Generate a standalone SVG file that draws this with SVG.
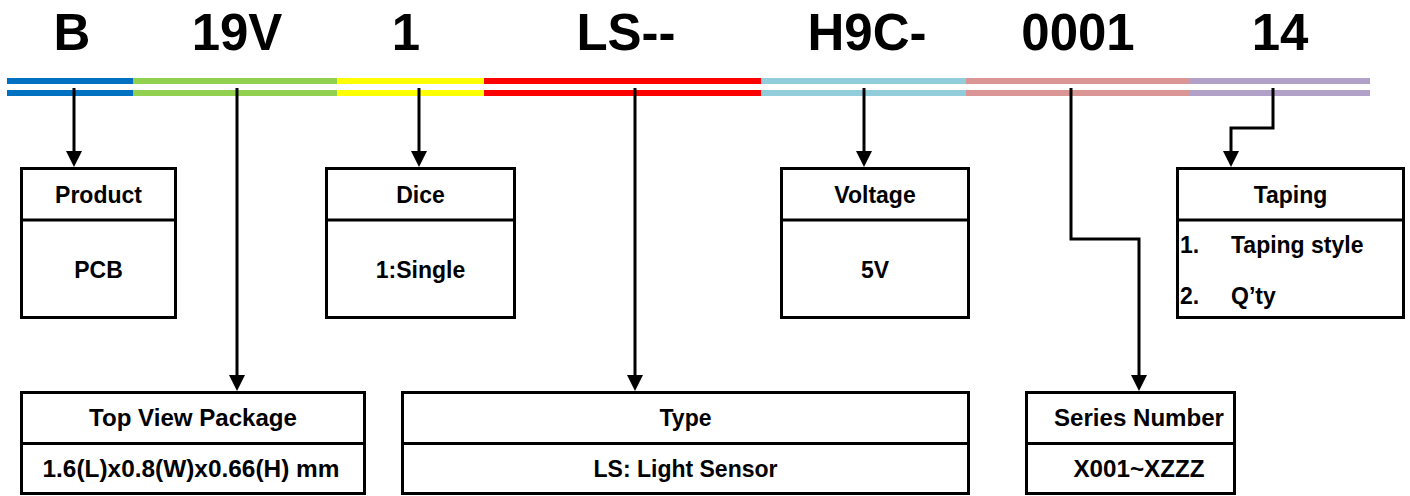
<svg xmlns="http://www.w3.org/2000/svg" width="1410" height="496" viewBox="0 0 1410 496">
  <style>
    .code { font-family: "Liberation Sans", Arial, sans-serif; font-weight: bold; font-size: 51px; fill: #000; text-anchor: middle; }
    .lbl { font-family: "Liberation Sans", Arial, sans-serif; font-weight: bold; font-size: 23px; fill: #000; text-anchor: middle; }
    .lbl-l { font-family: "Liberation Sans", Arial, sans-serif; font-weight: bold; font-size: 23px; fill: #000; }
    .box { fill: #fff; stroke: #000; stroke-width: 3; }
    .div { stroke: #000; stroke-width: 3; }
    .conn { fill: none; stroke: #000; stroke-width: 3; marker-end: url(#arr); }
  </style>
  <defs>
    <marker id="arr" viewBox="0 0 16 16" refX="7" refY="8" markerWidth="16" markerHeight="16" markerUnits="userSpaceOnUse" orient="auto">
      <path d="M0,0 L16,8 L0,16 z" fill="#000"/>
    </marker>
  </defs>
  <rect width="1410" height="496" fill="#fff"/>

  <g id="code">
    <text class="code" x="72" y="50">B</text>
    <text class="code" x="237" y="50">19V</text>
    <text class="code" x="406" y="50">1</text>
    <text class="code" x="626" y="50">LS--</text>
    <text class="code" x="867" y="50">H9C-</text>
    <text class="code" x="1078" y="50">0001</text>
    <text class="code" x="1280" y="50">14</text>
  </g>

  <g id="bars">
    <rect x="7" y="78" width="126" height="6" fill="#0070C0"/>
    <rect x="7" y="90" width="126" height="6" fill="#0070C0"/>
    <rect x="133" y="78" width="204" height="6" fill="#92D050"/>
    <rect x="133" y="90" width="204" height="6" fill="#92D050"/>
    <rect x="337" y="78" width="147" height="6" fill="#FFFF00"/>
    <rect x="337" y="90" width="147" height="6" fill="#FFFF00"/>
    <rect x="484" y="78" width="277" height="6" fill="#FF0000"/>
    <rect x="484" y="90" width="277" height="6" fill="#FF0000"/>
    <rect x="761" y="78" width="205" height="6" fill="#92CDDC"/>
    <rect x="761" y="90" width="205" height="6" fill="#92CDDC"/>
    <rect x="966" y="78" width="224" height="6" fill="#DA9694"/>
    <rect x="966" y="90" width="224" height="6" fill="#DA9694"/>
    <rect x="1190" y="78" width="180" height="6" fill="#B1A0C7"/>
    <rect x="1190" y="90" width="180" height="6" fill="#B1A0C7"/>
  </g>

  <g id="connectors">
    <path class="conn" d="M74,88 V158"/>
    <path class="conn" d="M237,88 V382"/>
    <path class="conn" d="M419,88 V158"/>
    <path class="conn" d="M635,88 V382"/>
    <path class="conn" d="M864,88 V158"/>
    <path class="conn" d="M1071,88 V239 H1139 V382"/>
    <path class="conn" d="M1273,88 V128 H1231 V158"/>
  </g>

  <g id="product">
    <rect class="box" x="21.5" y="168.5" width="154" height="149"/>
    <line class="div" x1="21.5" y1="220" x2="175.5" y2="220"/>
    <text class="lbl" x="98.5" y="203">Product</text>
    <text class="lbl" x="98.5" y="278">PCB</text>
  </g>

  <g id="dice">
    <rect class="box" x="326.5" y="168.5" width="188" height="149"/>
    <line class="div" x1="326.5" y1="220" x2="514.5" y2="220"/>
    <text class="lbl" x="420.5" y="203">Dice</text>
    <text class="lbl" x="420.5" y="278">1:Single</text>
  </g>

  <g id="voltage">
    <rect class="box" x="781.5" y="168.5" width="187" height="149"/>
    <line class="div" x1="781.5" y1="220" x2="968.5" y2="220"/>
    <text class="lbl" x="875" y="203">Voltage</text>
    <text class="lbl" x="875" y="278">5V</text>
  </g>

  <g id="taping">
    <rect class="box" x="1177.5" y="168.5" width="226" height="149"/>
    <line class="div" x1="1177.5" y1="220" x2="1403.5" y2="220"/>
    <text class="lbl" x="1290.5" y="203">Taping</text>
    <text class="lbl-l" x="1180" y="253">1.</text>
    <text class="lbl-l" x="1231" y="253">Taping style</text>
    <text class="lbl-l" x="1180" y="304">2.</text>
    <text class="lbl-l" x="1231" y="304">Q’ty</text>
  </g>

  <g id="package">
    <rect class="box" x="21.5" y="392.5" width="343" height="101"/>
    <line class="div" x1="21.5" y1="443.5" x2="364.5" y2="443.5"/>
    <text class="lbl" x="193" y="426" textLength="208" lengthAdjust="spacingAndGlyphs">Top View Package</text>
    <text class="lbl" x="191" y="477" textLength="297" lengthAdjust="spacingAndGlyphs">1.6(L)x0.8(W)x0.66(H) mm</text>
  </g>

  <g id="type">
    <rect class="box" x="402.5" y="392.5" width="566" height="101"/>
    <line class="div" x1="402.5" y1="443.5" x2="968.5" y2="443.5"/>
    <text class="lbl" x="685.5" y="426">Type</text>
    <text class="lbl" x="685.5" y="477">LS: Light Sensor</text>
  </g>

  <g id="series">
    <rect class="box" x="1026.5" y="392.5" width="208" height="101"/>
    <line class="div" x1="1026.5" y1="443.5" x2="1234.5" y2="443.5"/>
    <text class="lbl" x="1139" y="426" textLength="170" lengthAdjust="spacingAndGlyphs">Series Number</text>
    <text class="lbl" x="1139" y="477" textLength="131" lengthAdjust="spacingAndGlyphs">X001~XZZZ</text>
  </g>
</svg>
